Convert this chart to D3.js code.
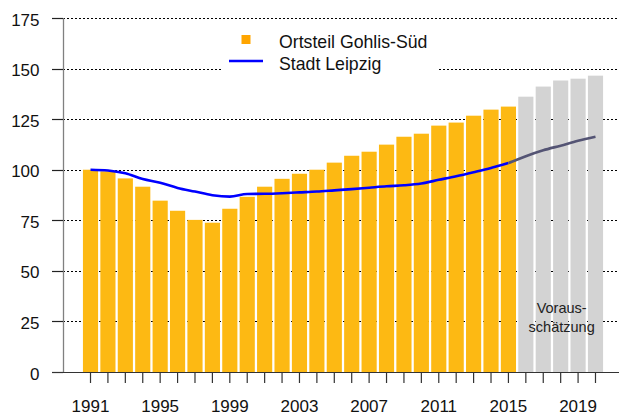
<!DOCTYPE html>
<html>
<head>
<meta charset="utf-8">
<script src="https://cdn.jsdelivr.net/npm/d3@7"></script>
<style>
  html, body { margin: 0; padding: 0; background: #fff; }
  svg { display: block; font-family: "Liberation Sans", Arial, sans-serif; }
</style>
</head>
<body>
<svg id="chart" width="619" height="415"></svg>
<script>
// Population index (1991 = 100)
const years = d3.range(1991, 2021);
const gohlisSued = [100, 99.2, 95.7, 91.6, 84.7, 79.7, 75.2, 73.8, 80.7, 86.6,
                    91.6, 95.5, 98.0, 100.0, 103.5, 106.9, 108.9, 112.4, 116.3, 117.8,
                    121.8, 123.3, 126.7, 129.7, 131.2, 136.1, 141.1, 144.1, 145.0, 146.5];
const leipzig = [100, 99.6, 98.2, 95.4, 93.6, 91.0, 89.2, 87.4, 86.7, 88.0,
                 88.1, 88.4, 88.8, 89.2, 89.8, 90.4, 91.1, 91.8, 92.3, 93.2,
                 95.0, 96.8, 98.8, 100.9, 103.3, 106.7, 109.6, 111.9, 114.3, 116.3];
const firstForecastYear = 2016;
const yTicks = [0, 25, 50, 75, 100, 125, 150, 175];
const xLabelYears = [1991, 1995, 1999, 2003, 2007, 2011, 2015, 2019];
const legendLabels = ["Ortsteil Gohlis-Süd", "Stadt Leipzig"];
const forecastLabel = ["Voraus-", "schätzung"];

const svg = d3.select("#chart");
const plotLeft = 63, plotRight = 619, plotTop = 18, plotBottom = 372;

const x = d3.scaleBand().domain(years).range([81.8, 604.2]).paddingInner(0.13).paddingOuter(0.065);
const y = d3.scaleLinear().domain([0, 175]).range([plotBottom, plotTop]);

// dotted horizontal grid
svg.append("g").selectAll("line").data(yTicks.filter(d => d > 0)).join("line")
  .attr("x1", plotLeft).attr("x2", plotRight)
  .attr("y1", d => Math.round(y(d)) + 0.5).attr("y2", d => Math.round(y(d)) + 0.5)
  .attr("stroke", "#000").attr("stroke-width", 1.2).attr("stroke-dasharray", "2,2");

// bars
const data = years.map((yr, i) => ({ yr, v: gohlisSued[i] }));
svg.append("g").selectAll("rect").data(data).join("rect")
  .attr("x", d => x(d.yr)).attr("width", x.bandwidth())
  .attr("y", d => y(d.v)).attr("height", d => y(0) - y(d.v))
  .attr("fill", d => d.yr >= firstForecastYear ? "#d3d3d3" : "#fdb913");

// forecast note
const fxCenter = (x(2016) + x(2020) + x.bandwidth()) / 2 + 1;
svg.append("text").attr("x", fxCenter).attr("y", 312.5)
  .attr("text-anchor", "middle").attr("font-size", 14.5).attr("fill", "#222")
  .selectAll("tspan").data(forecastLabel).join("tspan")
  .attr("x", fxCenter).attr("dy", (d, i) => i === 0 ? 0 : 19).text(d => d);

// Leipzig line: blue for observed years, grey-blue for forecast
const line = d3.line()
  .x((d, i) => x(years[i]) + x.bandwidth() / 2)
  .y(d => y(d))
  .curve(d3.curveMonotoneX);
const splitX = x(2015) + x.bandwidth() / 2;
const defs = svg.append("defs");
defs.append("clipPath").attr("id", "obs").append("rect")
  .attr("x", 0).attr("y", 0).attr("width", splitX).attr("height", 415);
defs.append("clipPath").attr("id", "fc").append("rect")
  .attr("x", splitX).attr("y", 0).attr("width", 619 - splitX).attr("height", 415);
svg.append("path").datum(leipzig).attr("d", line).attr("fill", "none")
  .attr("stroke", "#0000ff").attr("stroke-width", 2.6).attr("clip-path", "url(#obs)");
svg.append("path").datum(leipzig).attr("d", line).attr("fill", "none")
  .attr("stroke", "#545474").attr("stroke-width", 2.6).attr("clip-path", "url(#fc)");

// y axis
const yAxis = svg.append("g");
yAxis.append("line").attr("x1", plotLeft + 0.5).attr("x2", plotLeft + 0.5).attr("y1", plotTop).attr("y2", plotBottom)
  .attr("stroke", "#808080").attr("stroke-width", 1.3);
yAxis.selectAll("line.tick").data(yTicks).join("line").attr("class", "tick")
  .attr("x1", 52).attr("x2", plotLeft)
  .attr("y1", d => Math.round(y(d)) + 0.5).attr("y2", d => Math.round(y(d)) + 0.5)
  .attr("stroke", "#222").attr("stroke-width", 1.2);
yAxis.selectAll("text").data(yTicks).join("text")
  .attr("x", 39.5).attr("y", d => y(d) + 7.5)
  .attr("text-anchor", "end").attr("font-size", 17).attr("fill", "#111")
  .text(d => d);

// x axis
const xAxis = svg.append("g");
xAxis.append("line").attr("x1", 52).attr("x2", plotRight).attr("y1", plotBottom + 0.5).attr("y2", plotBottom + 0.5)
  .attr("stroke", "#333").attr("stroke-width", 1.2);
xAxis.selectAll("line.tick").data(years).join("line").attr("class", "tick")
  .attr("x1", d => x(d) + x.bandwidth() / 2).attr("x2", d => x(d) + x.bandwidth() / 2)
  .attr("y1", plotBottom).attr("y2", plotBottom + 11)
  .attr("stroke", "#333").attr("stroke-width", 1.2);
xAxis.selectAll("text").data(xLabelYears).join("text")
  .attr("x", d => x(d) + x.bandwidth() / 2).attr("y", 411.5)
  .attr("text-anchor", "middle").attr("font-size", 17).attr("fill", "#111")
  .text(d => d);

// legend on a white panel
const lg = svg.append("g");
lg.append("rect").attr("x", 223).attr("y", 26).attr("width", 214).attr("height", 54).attr("fill", "#fff");
lg.append("rect").attr("x", 241.5).attr("y", 35).attr("width", 9).attr("height", 9).attr("fill", "#ffa500");
lg.append("line").attr("x1", 229).attr("x2", 263).attr("y1", 61).attr("y2", 61)
  .attr("stroke", "#0000ff").attr("stroke-width", 2.6);
lg.selectAll("text").data(legendLabels).join("text")
  .attr("x", 279).attr("y", (d, i) => 48 + i * 22)
  .attr("font-size", 17.7).attr("fill", "#111").text(d => d);
</script>
</body>
</html>
